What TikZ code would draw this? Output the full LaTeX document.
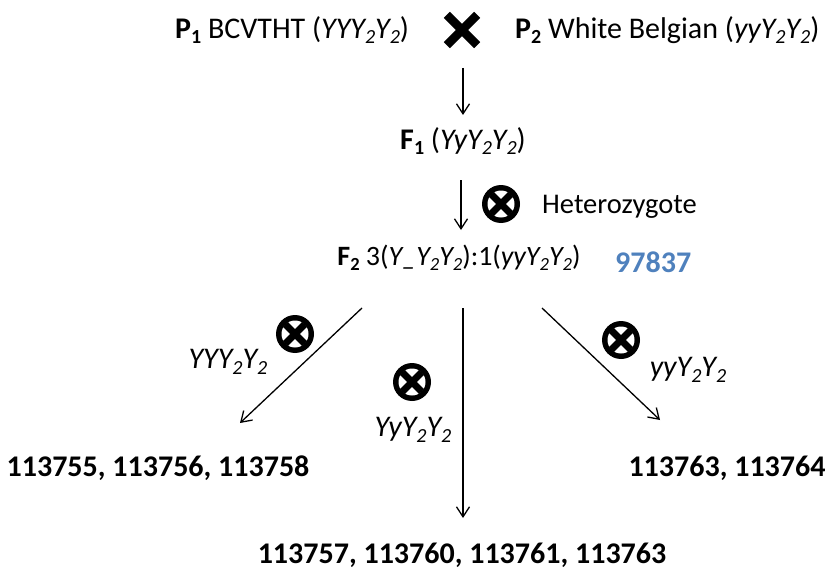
\documentclass[tikz,border=0pt]{standalone}
\usepackage{fontspec}
\setmainfont{Carlito}
\usetikzlibrary{arrows.meta}
\definecolor{numblue}{RGB}{79,129,189}
% lowered small index, as used for generation and allele numbers
\newcommand{\lowsub}[1]{\raisebox{-0.4ex}{\fontsize{20}{20}\selectfont #1}}
\newcommand{\lowsubsm}[1]{\raisebox{-0.4ex}{\fontsize{18.5}{18.5}\selectfont #1}}
\begin{document}
\begin{tikzpicture}[x=1pt,y=-1pt,
  font=\fontsize{30}{36}\selectfont,
  lbl/.style={inner sep=0pt},
  boldnum/.style={lbl, font=\fontsize{30}{36}\selectfont\bfseries},
  flow/.style={line width=1.3pt,
    -{Straight Barb[length=10pt,width=13pt,line width=1.3pt]}},
  selfing/.pic={
    \fill (0,0) circle (19pt);
    \fill[white] (0,0) circle (13.5pt);
    \begin{scope}
      \clip (0,0) circle (14pt);
      \draw[line width=7pt] (-15pt,-15pt) -- (15pt,15pt)
                            (-15pt,15pt) -- (15pt,-15pt);
    \end{scope}
  },
]
\useasboundingbox (0,0) rectangle (831,578);

% parental cross
\node[lbl, anchor=west] (p1) at (175,30)
  {\textbf{P\lowsub{1}} BCVTHT (\textit{YYY\lowsub{2}Y\lowsub{2}})};
\node[lbl, minimum size=30pt] (cross) at (462,30) {};
\draw[line width=8.5pt] (cross.north west) -- (cross.south east)
                        (cross.north east) -- (cross.south west);
\node[lbl, anchor=west] (p2) at (515,30)
  {\textbf{P\lowsub{2}} White Belgian (\textit{yyY\lowsub{2}Y\lowsub{2}})};

% F1 generation
\coordinate (a1s) at (463,68);
\coordinate (a1e) at (463,115);
\draw[flow] (a1s) -- (a1e);
\node[lbl] (f1) at (463,141)
  {\textbf{F\lowsub{1}} (\textit{YyY\lowsub{2}Y\lowsub{2}})};

% selfing of the heterozygote
\coordinate (a2s) at (461,180);
\coordinate (a2e) at (461,230);
\draw[flow] (a2s) -- (a2e);
\pic at (501,204) {selfing};
\node[lbl, anchor=west, font=\fontsize{28.5}{34}\selectfont] (het) at (542,207) {Heterozygote};

% F2 generation
\node[lbl, font=\fontsize{28}{34}\selectfont] (f2) at (459,258)
  {\textbf{F\lowsubsm{2}} 3(\textit{Y\_Y\lowsubsm{2}Y\lowsubsm{2}}):1(\textit{yyY\lowsubsm{2}Y\lowsubsm{2}})};
\node[boldnum, anchor=west, text=numblue] (n0) at (615,262) {97837};

% three F2 genotypes, each selfed
\coordinate (bl) at (362,308);
\coordinate (bm) at (463,308);
\coordinate (br) at (542,308);
\coordinate (el) at (240,423);
\coordinate (em) at (463,518);
\coordinate (er) at (660,420);
\draw[flow] (bl) -- (el);
\draw[flow] (bm) -- (em);
\draw[flow] (br) -- (er);

\pic at (295,334) {selfing};
\pic at (412,382) {selfing};
\pic at (621,340) {selfing};

\node[lbl] (gl) at (228,362) {\textit{YYY\lowsub{2}Y\lowsub{2}}};
\node[lbl] (gm) at (413,430) {\textit{YyY\lowsub{2}Y\lowsub{2}}};
\node[lbl] (gr) at (688,370) {\textit{yyY\lowsub{2}Y\lowsub{2}}};

% resulting lines
\node[boldnum] (nl) at (158,468) {113755, 113756, 113758};
\node[boldnum] (nr) at (727,468) {113763, 113764};
\node[boldnum] (nm) at (462,555) {113757, 113760, 113761, 113763};
\end{tikzpicture}
\end{document}
